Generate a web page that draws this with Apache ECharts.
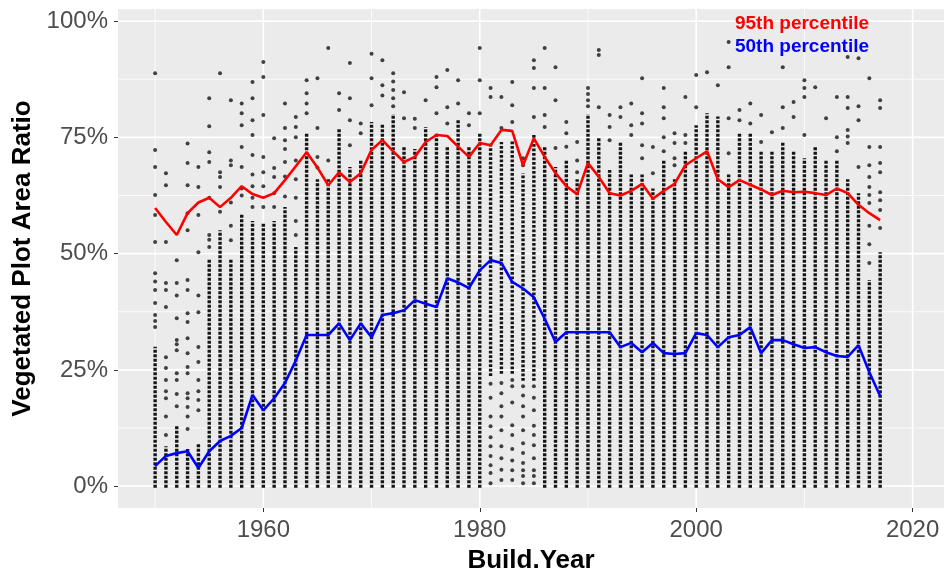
<!DOCTYPE html>
<html>
<head>
<meta charset="utf-8">
<script src="https://cdn.jsdelivr.net/npm/echarts@6/dist/echarts.min.js"></script>
<style>
html,body{margin:0;padding:0;background:#fff;}
#chart{width:944px;height:573px;}
</style>
</head>
<body>
<div id="chart"></div>
<script>
// ---------- data ----------
const years = [1950,1951,1952,1953,1954,1955,1956,1957,1958,1959,
  1960,1961,1962,1963,1964,1965,1966,1967,1968,1969,
  1970,1971,1972,1973,1974,1975,1976,1977,1978,1979,
  1980,1981,1982,1983,1984,1985,1986,1987,1988,1989,
  1990,1991,1992,1993,1994,1995,1996,1997,1998,1999,
  2000,2001,2002,2003,2004,2005,2006,2007,2008,2009,
  2010,2011,2012,2013,2014,2015,2016,2017];

// 95th percentile per build year
const p95 = [.598,.568,.540,.587,.610,.620,.600,.620,.645,.628,
  .620,.630,.658,.688,.718,.685,.647,.675,.654,.673,
  .723,.744,.720,.697,.708,.740,.755,.753,.730,.708,
  .738,.733,.766,.764,.690,.748,.708,.673,.645,.628,
  .695,.665,.630,.625,.635,.650,.618,.635,.650,.690,
  .705,.720,.660,.643,.658,.648,.638,.626,.635,.632,
  .633,.630,.626,.640,.630,.605,.587,.572];

// 50th percentile per build year
const p50 = [.043,.065,.071,.075,.039,.075,.097,.108,.125,.196,
  .163,.189,.222,.270,.325,.325,.325,.350,.314,.350,
  .320,.368,.372,.378,.400,.392,.385,.447,.438,.426,
  .464,.486,.480,.439,.425,.406,.360,.310,.331,.331,
  .331,.331,.331,.299,.308,.288,.308,.286,.284,.286,
  .329,.325,.299,.320,.325,.342,.286,.314,.314,.305,
  .297,.299,.288,.280,.278,.303,.245,.194];

// extent of the densely packed part of each year's column of plots
const denseLo = [0,0,0,0,0,0,0,0,0,0,
  0,0,0,0,0,0,0,0,0,0,
  0,0,0,0,0,0,0,0,0,0,
  0,.24,.245,.245,.23,.23,0,0,0,0,
  0,0,0,0,0,0,0,0,0,0,
  0,0,0,0,0,0,0,0,0,0,
  0,0,0,0,0,0,0,0];
const denseHi = [.30,.086,.13,.08,.092,.49,.55,.49,.587,.57,
  .566,.57,.60,.514,.76,.66,.66,.77,.686,.70,
  .783,.78,.80,.729,.725,.772,.76,.729,.79,.729,
  .759,.738,.74,.744,.673,.759,.729,.686,.70,.66,
  .80,.75,.68,.74,.67,.67,.64,.70,.66,.72,
  .776,.802,.795,.67,.76,.76,.72,.72,.74,.72,
  .705,.73,.70,.70,.66,.63,.443,.503];

// individually visible plots outside the dense part, per year
const sparse = [
  [.342,.355,.368,.394,.422,.44,.458,.525,.583,.626,.686,.723,.888],
  [.11,.15,.189,.204,.228,.254,.277,.385,.422,.437,.525,.647,.673],
  [.172,.198,.228,.243,.292,.305,.314,.361,.41,.437,.486],
  [.123,.15,.17,.189,.20,.243,.256,.286,.318,.353,.372,.422,.443,.55,.587,.647,.695,.737],
  [.163,.185,.204,.228,.267,.299,.374,.41,.503,.583,.643,.686],
  [.514,.53,.54,.62,.697,.718,.774,.834],
  [.59,.643,.665,.675,.888],
  [.529,.56,.61,.69,.70,.83],
  [.625,.64,.686,.729,.776,.802,.823],
  [.60,.62,.645,.67,.712,.755,.787,.834,.869],
  [.60,.645,.675,.708,.798,.88,.912],
  [.60,.63,.665,.684,.748],
  [.623,.666,.697,.725,.744,.77,.823],
  [.54,.57,.62,.66,.70,.75,.772,.794],
  [.802,.823,.845,.873],
  [.685,.708,.77,.877],
  [.70,.942],
  [.809,.845],
  [.733,.787,.834,.91],
  [.759,.78],
  [.819,.877,.93],
  [.84,.862,.916],
  [.817,.834,.852,.87,.888],
  [.791,.847],
  [.77,.79],
  [.83],
  [.802,.858,.88],
  [.78,.815,.895],
  [.823,.873],
  [.776,.802],
  [.802,.873,.942],
  [.837,.856,.22,.19,.15,.129,.105,.086,.065,.045,.028,.006],
  [.77,.837,.222,.2,.172,.15,.12,.086,.06,.035,.013],
  [.783,.819,.869,.228,.215,.18,.131,.11,.08,.055,.034,.013],
  [.69,.705,.215,.195,.172,.15,.12,.092,.071,.05,.034,.022,.006],
  [.794,.856,.899,.916,.215,.19,.163,.13,.11,.088,.06,.034,.022,.006],
  [.772,.798,.856,.942],
  [.727,.83,.901],
  [.73,.759,.783],
  [.675,.70,.74],
  [.817,.83,.843,.856],
  [.815,.927,.938],
  [.744,.772,.798],
  [.794,.815],
  [.755,.776,.823],
  [.705,.733,.78,.802,.877],
  [.673,.729],
  [.72,.75,.791,.815,.856],
  [.69,.705,.738,.759],
  [.738,.755,.837],
  [.815,.884],
  [.89],
  [.862],
  [.716,.791,.901,.955],
  [.787,.809],
  [.78,.823],
  [.74,.798],
  [.761],
  [.77,.815,.901],
  [.794,.826],
  [.755,.837,.856,.873],
  [.858],
  [.791],
  [.72,.75,.837],
  [.738,.752,.766,.813,.837,.923],
  [.686,.787,.817,.92],
  [.48,.52,.56,.609,.626,.643,.665,.69,.729,.877],
  [.555,.594,.615,.632,.675,.695,.729,.813,.83]
];

const xTicks = [1960,1980,2000,2020];
const xMinor = [1950,1970,1990,2010];
const yTicks = [0,0.25,0.5,0.75,1];
const yMinor = [0.125,0.375,0.625,0.875];

// ---------- build series data ----------
const lineP95 = years.map((y,i)=>[y,p95[i]]);
const lineP50 = years.map((y,i)=>[y,p50[i]]);
const denseData = years.map((y,i)=>[y,denseLo[i],denseHi[i]]);
const scatterData = [];
years.forEach((y,i)=>sparse[i].forEach(v=>scatterData.push([y,v])));
const vGrid = xTicks.map(v=>[v,1]).concat(xMinor.map(v=>[v,0]));
const hGrid = yTicks.map(v=>[v,1]).concat(yMinor.map(v=>[v,0]));

const FONT = 'Liberation Sans, Arial, sans-serif';
const chart = echarts.init(document.getElementById('chart'), null, {renderer:'canvas'});
chart.setOption({
  animation:false,
  backgroundColor:'#ffffff',
  grid:{left:118,right:0,top:9,bottom:65,show:true,backgroundColor:'#ebebeb',borderWidth:0,
    containLabel:false,outerBoundsMode:'none'},
  xAxis:{
    type:'value', min:1946.57, max:2022.9,
    name:'Build.Year', nameLocation:'middle', nameGap:40,
    nameTextStyle:{fontFamily:FONT,fontSize:26,fontWeight:'bold',color:'#000'},
    axisLine:{show:false,onZero:false},
    axisTick:{show:true,length:4,lineStyle:{color:'#333',width:1},customValues:xTicks},
    axisLabel:{customValues:xTicks,margin:10,fontFamily:FONT,fontSize:24,color:'#4d4d4d',formatter:v=>String(v)},
    splitLine:{show:false}
  },
  yAxis:{
    type:'value', min:-0.047, max:1.026,
    name:'Vegetated Plot Area Ratio', nameLocation:'middle', nameGap:82,
    nameTextStyle:{fontFamily:FONT,fontSize:26,fontWeight:'bold',color:'#000'},
    axisLine:{show:false,onZero:false},
    axisTick:{show:true,length:4,lineStyle:{color:'#333',width:1},customValues:yTicks},
    axisLabel:{customValues:yTicks,margin:10,fontFamily:FONT,fontSize:24,color:'#4d4d4d',formatter:v=>Math.round(v*100)+'%'},
    splitLine:{show:false}
  },
  series:[
    {
      type:'custom', name:'vgrid', z:0, silent:true, clip:false,
      data:vGrid, encode:{x:0},
      renderItem:(params,api)=>{
        const cs = params.coordSys;
        const x = api.coord([api.value(0),0.5])[0];
        return {type:'line',shape:{x1:x,y1:cs.y,x2:x,y2:cs.y+cs.height},
          style:{stroke:'#ffffff',lineWidth:api.value(1)?1.6:0.8}};
      }
    },
    {
      type:'custom', name:'hgrid', z:0, silent:true, clip:false,
      data:hGrid, encode:{y:0},
      renderItem:(params,api)=>{
        const cs = params.coordSys;
        const y = api.coord([1980,api.value(0)])[1];
        return {type:'line',shape:{x1:cs.x,y1:y,x2:cs.x+cs.width,y2:y},
          style:{stroke:'#ffffff',lineWidth:api.value(1)?1.6:0.8}};
      }
    },
    {
      type:'custom', name:'dense', z:2, silent:true,
      data:denseData,
      encode:{x:0,y:[1,2]},
      renderItem:(params,api)=>{
        const a = api.coord([api.value(0),api.value(1)]);
        const b = api.coord([api.value(0),api.value(2)]);
        return {type:'line',shape:{x1:a[0],y1:a[1]+1.5,x2:b[0],y2:b[1]},
          style:{stroke:'#151515',lineWidth:3.4,lineDash:[2.8,1.7]}};
      }
    },
    {
      type:'scatter', name:'plots', z:2, silent:true,
      data:scatterData, symbolSize:4,
      itemStyle:{color:'#151515'}
    },
    {
      type:'line', name:'95th percentile', z:4, data:lineP95,
      showSymbol:false, lineStyle:{color:'#ff0000',width:2.6}
    },
    {
      type:'line', name:'50th percentile', z:4, data:lineP50,
      showSymbol:false, lineStyle:{color:'#0000ff',width:2.6}
    }
  ],
  graphic:[
    {type:'text',x:802,y:23.5,z:10,style:{text:'95th percentile',fill:'#ff0000',font:'bold 19px '+FONT,align:'center',verticalAlign:'middle'}},
    {type:'text',x:802,y:46.5,z:10,style:{text:'50th percentile',fill:'#0000ff',font:'bold 19px '+FONT,align:'center',verticalAlign:'middle'}}
  ]
});
</script>
</body>
</html>
